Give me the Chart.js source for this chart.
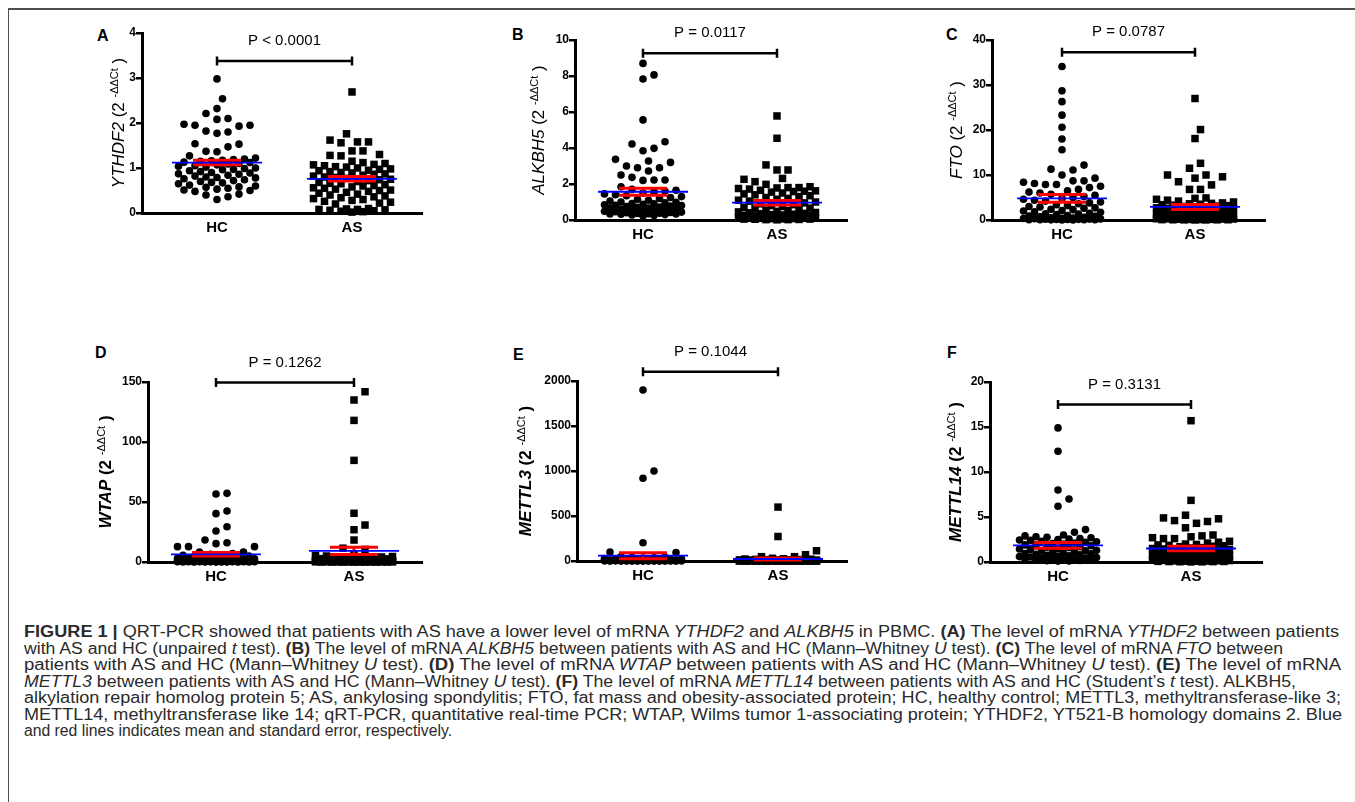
<!DOCTYPE html>
<html><head><meta charset="utf-8">
<script src="https://cdn.jsdelivr.net/npm/chart.js@4/dist/chart.umd.min.js"></script>
<style>
html,body{margin:0;padding:0;background:#fff;}
body{width:1355px;height:802px;position:relative;overflow:hidden;font-family:"Liberation Sans",Arial,sans-serif;}
#frame{position:absolute;left:8px;top:8px;width:1400px;height:900px;border-top:2px solid #505050;border-left:1px solid #505050;}
canvas{position:absolute;}
.lbl{position:absolute;font-weight:bold;font-size:16px;line-height:16px;color:#000;}
#caption{position:absolute;left:24px;top:624px;font-family:"Liberation Sans Narrow","Liberation Sans",Arial,sans-serif;font-size:16px;color:#2a2a2a;}
#caption div{white-space:nowrap;height:16.5px;line-height:16.5px;transform-origin:0 50%;width:max-content;}
</style></head><body>
<div id="frame"></div>
<div id="caption">
<div><b>FIGURE 1 |</b> QRT-PCR showed that patients with AS have a lower level of mRNA <i>YTHDF2</i> and <i>ALKBH5</i> in PBMC. <b>(A)</b> The level of mRNA <i>YTHDF2</i> between patients</div>
<div>with AS and HC (unpaired <i>t</i> test). <b>(B)</b> The level of mRNA <i>ALKBH5</i> between patients with AS and HC (Mann–Whitney <i>U</i> test). <b>(C)</b> The level of mRNA <i>FTO</i> between</div>
<div>patients with AS and HC (Mann–Whitney <i>U</i> test). <b>(D)</b> The level of mRNA <i>WTAP</i> between patients with AS and HC (Mann–Whitney <i>U</i> test). <b>(E)</b> The level of mRNA</div>
<div><i>METTL3</i> between patients with AS and HC (Mann–Whitney <i>U</i> test). <b>(F)</b> The level of mRNA <i>METTL14</i> between patients with AS and HC (Student’s <i>t</i> test). ALKBH5,</div>
<div>alkylation repair homolog protein 5; AS, ankylosing spondylitis; FTO, fat mass and obesity-associated protein; HC, healthy control; METTL3, methyltransferase-like 3;</div>
<div>METTL14, methyltransferase like 14; qRT-PCR, quantitative real-time PCR; WTAP, Wilms tumor 1-associating protein; YTHDF2, YT521-B homology domains 2. Blue</div>
<div>and red lines indicates mean and standard error, respectively.</div>
</div>
<script>
// ---------------- DATA ----------------
const categories = ['HC', 'AS'];
const panelLetters = ['A', 'B', 'C', 'D', 'E', 'F'];
const geneNames = ['YTHDF2', 'ALKBH5', 'FTO', 'WTAP', 'METTL3', 'METTL14'];
const pValueLabels = ['P < 0.0001', 'P = 0.0117', 'P = 0.0787', 'P = 0.1262', 'P = 0.1044', 'P = 0.3131'];
const yAxisMax = [4, 10, 40, 150, 2000, 20];
const yAxisStep = [1, 2, 10, 50, 500, 5];
const bracketLevels = [3.38, 9.26, 37.3, 149.5, 2104, 17.5];

const meanHC = [1.12, 1.57, 4.8, 6.4, 59, 1.85];
const semHC  = [0.05, 0.20, 0.85, 1.5, 33, 0.32];
const meanAS = [0.76, 0.96, 2.9, 9.2, 22, 1.5];
const semAS  = [0.05, 0.13, 0.55, 3.0, 10, 0.26];

const ythdf2HC = [2.98, 2.54, 2.32, 2.21, 2.10, 2.08, 1.97, 1.95, 1.95, 1.93, 1.82, 1.80, 1.77, 1.54, 1.53, 1.47, 1.37, 1.36, 1.27, 1.22, 1.20, 1.19, 1.17, 1.16, 1.15, 1.13, 1.12, 1.10, 1.09, 1.07, 1.05, 1.04, 1.02, 1.00, 0.99, 0.97, 0.96, 0.94, 0.92, 0.90, 0.89, 0.87, 0.86, 0.84, 0.82, 0.80, 0.79, 0.78, 0.76, 0.74, 0.72, 0.70, 0.68, 0.67, 0.65, 0.62, 0.60, 0.58, 0.57, 0.55, 0.53, 0.51, 0.50, 0.48, 0.42, 0.40, 0.36, 0.30];
const ythdf2AS = [2.69, 1.76, 1.62, 1.58, 1.58, 1.56, 1.38, 1.38, 1.30, 1.28, 1.27, 1.15, 1.12, 1.10, 1.08, 1.07, 1.05, 1.03, 1.02, 1.00, 0.98, 0.97, 0.95, 0.94, 0.92, 0.90, 0.89, 0.87, 0.86, 0.84, 0.82, 0.80, 0.79, 0.77, 0.75, 0.74, 0.72, 0.70, 0.68, 0.66, 0.65, 0.63, 0.61, 0.60, 0.58, 0.56, 0.55, 0.53, 0.51, 0.50, 0.48, 0.46, 0.44, 0.42, 0.40, 0.38, 0.36, 0.34, 0.32, 0.30, 0.28, 0.26, 0.24, 0.22, 0.20, 0.10, 0.09, 0.08, 0.08, 0.07, 0.06, 0.05, 0.04, 0.03, 0.02];

const alkbh5HC = [8.70, 8.06, 7.83, 5.56, 4.35, 4.22, 3.98, 3.85, 3.37, 3.28, 3.20, 3.00, 2.90, 2.90, 2.72, 2.50, 2.37, 2.22, 2.22, 2.20, 1.85, 1.70, 1.65, 1.60, 1.55, 1.50, 1.45, 1.40, 1.35, 1.30, 1.25, 1.20, 1.15, 1.10, 1.05, 1.00, 0.98, 0.95, 0.92, 0.90, 0.87, 0.85, 0.82, 0.80, 0.77, 0.75, 0.72, 0.70, 0.67, 0.65, 0.62, 0.60, 0.58, 0.55, 0.53, 0.50, 0.48, 0.46, 0.44, 0.42, 0.40, 0.38, 0.36, 0.35, 0.34, 0.33, 0.32, 0.30, 0.28, 0.25, 0.22];
const alkbh5AS = [5.78, 4.54, 3.06, 2.78, 2.78, 2.31, 2.26, 2.13, 1.98, 1.85, 1.80, 1.80, 1.78, 1.75, 1.72, 1.65, 1.62, 1.60, 1.58, 1.55, 1.50, 1.45, 1.40, 1.35, 1.30, 1.25, 1.20, 1.15, 1.10, 1.05, 1.00, 0.95, 0.90, 0.85, 0.80, 0.75, 0.70, 0.66, 0.62, 0.58, 0.55, 0.52, 0.48, 0.45, 0.42, 0.40, 0.37, 0.35, 0.32, 0.30, 0.28, 0.26, 0.24, 0.22, 0.20, 0.18, 0.16, 0.15, 0.14, 0.12, 0.11, 0.10, 0.09, 0.08, 0.07, 0.06, 0.05, 0.05, 0.04, 0.03, 0.02, 0.02, 0.01];

const ftoHC = [34.1, 28.7, 26.3, 23.3, 20.6, 18.0, 15.6, 12.2, 11.3, 11.1, 10.0, 9.3, 8.7, 8.7, 8.4, 8.1, 7.9, 7.9, 7.5, 7.2, 6.8, 6.5, 6.2, 6.0, 5.7, 5.5, 5.2, 5.0, 4.8, 4.6, 4.4, 4.2, 4.0, 3.8, 3.6, 3.4, 3.2, 3.0, 2.9, 2.7, 2.6, 2.4, 2.3, 2.1, 2.0, 1.8, 1.7, 1.5, 1.4, 1.3, 1.2, 1.0, 0.9, 0.8, 0.7, 0.6, 0.5, 0.45, 0.4, 0.35, 0.3, 0.25, 0.2, 0.18, 0.15, 0.12, 0.1, 0.08, 0.06, 0.05, 0.04, 0.03, 0.02, 0.01];
const ftoAS = [27.0, 20.1, 18.1, 12.6, 11.5, 10.0, 10.0, 9.6, 9.3, 8.5, 7.8, 6.8, 6.8, 4.9, 4.8, 4.6, 4.4, 4.2, 4.0, 3.8, 3.7, 3.6, 3.5, 3.4, 3.3, 3.2, 3.1, 3.0, 2.9, 2.8, 2.7, 2.6, 2.5, 2.4, 2.3, 2.2, 2.1, 2.0, 1.9, 1.8, 1.7, 1.6, 1.5, 1.4, 1.3, 1.2, 1.1, 1.0, 0.9, 0.8, 0.75, 0.7, 0.65, 0.6, 0.55, 0.5, 0.45, 0.4, 0.35, 0.3, 0.28, 0.25, 0.22, 0.2, 0.18, 0.15, 0.12, 0.1, 0.08, 0.06, 0.05, 0.04, 0.03, 0.02, 0.01];

const wtapHC = [57.2, 56.7, 42.5, 40.3, 29.4, 25.8, 18.3, 16.1, 15.3, 12.8, 12.8, 12.8, 8.3, 8.3, 7.0, 6.5, 6.0, 5.5, 5.0, 4.6, 4.2, 3.8, 3.5, 3.2, 3.0, 2.8, 2.6, 2.4, 2.2, 2.0, 1.9, 1.8, 1.7, 1.6, 1.5, 1.4, 1.3, 1.2, 1.1, 1.0, 0.95, 0.9, 0.85, 0.8, 0.75, 0.7, 0.65, 0.6, 0.55, 0.5, 0.45, 0.4, 0.35, 0.3, 0.28, 0.25, 0.22, 0.2, 0.18, 0.15, 0.12, 0.1, 0.08, 0.06, 0.05, 0.04, 0.03, 0.02, 0.01];
const wtapAS = [141.9, 135.0, 118.0, 84.7, 40.6, 30.8, 26.9, 18.3, 11.5, 10.5, 6.0, 5.5, 5.0, 4.6, 4.2, 3.9, 3.6, 3.3, 3.0, 2.8, 2.6, 2.4, 2.2, 2.0, 1.9, 1.8, 1.7, 1.6, 1.5, 1.4, 1.3, 1.2, 1.1, 1.0, 0.95, 0.9, 0.85, 0.8, 0.75, 0.7, 0.65, 0.6, 0.55, 0.5, 0.45, 0.4, 0.38, 0.35, 0.32, 0.3, 0.28, 0.25, 0.22, 0.2, 0.18, 0.16, 0.15, 0.14, 0.12, 0.1, 0.09, 0.08, 0.07, 0.06, 0.05, 0.04, 0.03, 0.02, 0.02, 0.01, 0.01];

const mettl3HC = [1900, 1000, 919, 202, 99, 95, 50, 45, 40, 35, 30, 28, 25, 22, 20, 18, 16, 15, 14, 13, 12, 11, 10, 9, 8, 7, 6.5, 6, 5.5, 5, 4.5, 4, 3.8, 3.5, 3.2, 3, 2.8, 2.5, 2.2, 2, 1.8, 1.6, 1.5, 1.4, 1.2, 1, 0.9, 0.8, 0.7, 0.6, 0.5, 0.4, 0.3, 0.2, 0.1, 0.05];
const mettl3AS = [599, 272, 114, 70, 48, 48, 30, 25, 22, 20, 18, 16, 15, 14, 13, 12, 11, 10, 9, 8, 7, 6, 5.5, 5, 4.5, 4, 3.5, 3, 2.8, 2.5, 2.2, 2, 1.8, 1.6, 1.5, 1.4, 1.2, 1, 0.9, 0.8, 0.7, 0.6, 0.5, 0.45, 0.4, 0.35, 0.3, 0.25, 0.2, 0.18, 0.15, 0.12, 0.1, 0.08, 0.06, 0.05, 0.04, 0.03, 0.02, 0.01];

const mettl14HC = [14.9, 12.3, 8.0, 7.0, 6.2, 3.6, 3.3, 3.0, 2.9, 2.8, 2.75, 2.7, 2.6, 2.55, 2.5, 2.45, 2.4, 2.3, 2.25, 2.2, 2.1, 2.05, 2.0, 1.9, 1.85, 1.8, 1.7, 1.65, 1.6, 1.5, 1.45, 1.4, 1.3, 1.25, 1.2, 1.1, 1.05, 1.0, 0.95, 0.9, 0.85, 0.8, 0.75, 0.7, 0.65, 0.6, 0.55, 0.5, 0.45, 0.4, 0.35, 0.3, 0.28, 0.25, 0.22, 0.2, 0.18, 0.15, 0.12, 0.1];
const mettl14AS = [15.7, 6.85, 5.2, 4.9, 4.8, 4.6, 4.5, 4.3, 3.8, 3.0, 2.9, 2.8, 2.7, 2.6, 2.6, 2.3, 2.2, 2.1, 2.0, 1.95, 1.9, 1.85, 1.8, 1.75, 1.7, 1.6, 1.55, 1.5, 1.45, 1.4, 1.35, 1.3, 1.25, 1.2, 1.15, 1.1, 1.05, 1.0, 0.95, 0.9, 0.85, 0.8, 0.75, 0.7, 0.65, 0.6, 0.55, 0.5, 0.45, 0.4, 0.38, 0.35, 0.32, 0.3, 0.28, 0.25, 0.22, 0.2, 0.18, 0.16, 0.14, 0.12, 0.1, 0.09, 0.08, 0.07, 0.06, 0.05, 0.04, 0.03, 0.02, 0.01];

const groupValues = [[ythdf2HC, ythdf2AS], [alkbh5HC, alkbh5AS], [ftoHC, ftoAS], [wtapHC, wtapAS], [mettl3HC, mettl3AS], [mettl14HC, mettl14AS]];

// ---------------- LAYOUT (page pixels) ----------------
const layout = [
  {l:142, r:422, t:33,  hc:217,  as:352,  tx:24, bold:false, lx:97,  ly:28},
  {l:575, r:847, t:40,  hc:643,  as:777,  tx:37, bold:false, lx:512, ly:27},
  {l:992, r:1265,t:40,  hc:1062, as:1195, tx:36, bold:false, lx:946, ly:27},
  {l:148, r:422, t:382, hc:216,  as:354,  tx:43, bold:true,  lx:95,  ly:345},
  {l:577, r:847, t:381, hc:643,  as:778,  tx:52, bold:true,  lx:513, ly:347},
  {l:990, r:1262,t:382, hc:1058, as:1191, tx:35, bold:true,  lx:947, ly:345}
];
const PLOT_H = 180, Y_W = 75, X_H = 30, PAD_T = 42, PAD_R = 8;
const FONT = '"Liberation Sans", Arial, sans-serif';

// column-scatter layout: horizontal pixel offsets so marks do not overlap
function swarmOffsets(values, pxPerVal) {
  const step = 5.5, d = 10, half = 38.5;
  const cands = [0];
  for (let k = 1; k * step <= half + 0.01; k++) cands.push(k * step, -k * step);
  const order = values.map((v, i) => i).sort((a, b) => values[a] - values[b]);
  const placed = [], res = new Array(values.length);
  for (const i of order) {
    const y = values[i] * pxPerVal;
    let chosen = null, best = -1, bestX = 0;
    for (const c of cands) {
      let m = Infinity;
      for (const p of placed) {
        const dx = p.x - c, dy = p.y - y, dd = dx * dx + dy * dy;
        if (dd < m) m = dd;
      }
      if (m >= d * d) { chosen = c; break; }
      if (m > best) { best = m; bestX = c; }
    }
    if (chosen === null) chosen = bestX;
    placed.push({x: chosen, y});
    res[i] = chosen;
  }
  return res;
}

const annot = {
  id: 'annot',
  afterDatasetsDraw(chart, args, opts) {
    const i = opts.panel, g = layout[i];
    const {ctx, chartArea} = chart;
    const xs = chart.scales.x, ys = chart.scales.y;
    const x0 = xs.getPixelForValue(0), x1 = xs.getPixelForValue(1);
    const yb = ys.getPixelForValue(bracketLevels[i]);
    ctx.save();
    ctx.strokeStyle = '#000'; ctx.lineWidth = 2.5; ctx.lineCap = 'butt';
    ctx.beginPath();
    ctx.moveTo(x0, yb); ctx.lineTo(x1, yb);
    ctx.moveTo(x0, yb - 4.5); ctx.lineTo(x0, yb + 4.5);
    ctx.moveTo(x1, yb - 4.5); ctx.lineTo(x1, yb + 4.5);
    ctx.stroke();
    ctx.fillStyle = '#000';
    ctx.font = '15px ' + FONT;
    ctx.textAlign = 'center'; ctx.textBaseline = 'middle';
    ctx.fillText(pValueLabels[i], (x0 + x1) / 2, yb - 20);
    // y-axis title
    const w = g.bold ? 'bold ' : '';
    const segs = [
      {t: geneNames[i], f: w + 'italic 17px ' + FONT, dy: 0},
      {t: ' (2 ', f: w + '17px ' + FONT, dy: 0},
      {t: '-ΔΔCt', f: '11px ' + FONT, dy: -6},
      {t: ' )', f: w + '17px ' + FONT, dy: 0}
    ];
    let total = 0;
    segs.forEach(s => { ctx.font = s.f; s.w = ctx.measureText(s.t).width; total += s.w; });
    const cx = chartArea.left - g.tx, cy = (chartArea.top + chartArea.bottom) / 2;
    ctx.translate(cx, cy); ctx.rotate(-Math.PI / 2);
    ctx.textAlign = 'left'; ctx.textBaseline = 'alphabetic';
    let x = -total / 2;
    segs.forEach(s => { ctx.font = s.f; ctx.fillText(s.t, x, 6 + s.dy); x += s.w; });
    ctx.restore();
  }
};

layout.forEach((g, i) => {
  const lbl = document.createElement('div');
  lbl.className = 'lbl'; lbl.textContent = panelLetters[i];
  lbl.style.left = g.lx + 'px'; lbl.style.top = g.ly + 'px';
  document.body.appendChild(lbl);

  const cv = document.createElement('canvas');
  const W = g.r - g.l + Y_W + PAD_R, H = PAD_T + PLOT_H + X_H;
  cv.width = W; cv.height = H;
  cv.style.width = W + 'px'; cv.style.height = H + 'px';
  cv.style.left = (g.l - Y_W) + 'px'; cv.style.top = (g.t - PAD_T) + 'px';
  document.body.appendChild(cv);

  const sp = g.as - g.hc;
  const xMin = -(g.hc - g.l) / sp, xMax = (g.r - g.hc) / sp;
  const pxPerVal = PLOT_H / yAxisMax[i];
  const [hcVals, asVals] = groupValues[i];
  const hcOff = swarmOffsets(hcVals, pxPerVal), asOff = swarmOffsets(asVals, pxPerVal);
  const hcPts = hcVals.map((v, k) => ({x: hcOff[k] / sp, y: v}));
  const asPts = asVals.map((v, k) => ({x: 1 + asOff[k] / sp, y: v}));
  const bw = 45 / sp, rw = 24 / sp;
  const seg = (xa, ya, xb, yb) => [{x: xa, y: ya}, {x: xb, y: yb}];
  const lineDs = (data, color, width, order) => ({data, showLine: true, borderColor: color, backgroundColor: color, borderWidth: width, pointRadius: 0, order, clip: false});
  const datasets = [];
  [[0, meanHC[i], semHC[i]], [1, meanAS[i], semAS[i]]].forEach(([cx, m, s]) => {
    datasets.push(lineDs(seg(cx - bw, m, cx + bw, m), '#0000ff', 1.8, 0));
    datasets.push(lineDs(seg(cx - rw, m + s, cx + rw, m + s), '#ff0000', 3, 1));
    datasets.push(lineDs(seg(cx - rw, m - s, cx + rw, m - s), '#ff0000', 3, 1));
    datasets.push(lineDs(seg(cx, m - s, cx, m + s), '#ff0000', 3, 1));
  });
  datasets.push({data: hcPts, pointStyle: 'circle', pointRadius: 3.8, backgroundColor: '#000', borderWidth: 0, order: 2, clip: false});
  datasets.push({data: asPts, pointStyle: 'rect', pointRadius: 5.3, backgroundColor: '#000', borderWidth: 0, order: 3, clip: false});

  new Chart(cv, {
    type: 'scatter',
    data: {datasets},
    options: {
      responsive: false, animation: false, events: [],
      layout: {padding: {top: PAD_T, right: PAD_R, left: 0, bottom: 0}},
      plugins: {legend: {display: false}, tooltip: {enabled: false}, annot: {panel: i}},
      scales: {
        x: {
          type: 'linear', min: xMin, max: xMax,
          afterBuildTicks: s => { s.ticks = [{value: 0}, {value: 1}]; },
          afterFit: s => { s.height = X_H; },
          ticks: {callback: v => categories[v] !== undefined ? categories[v] : '', color: '#000', font: {family: FONT, size: 15, weight: 'bold'}, padding: 6, maxRotation: 0, autoSkip: false},
          grid: {display: false, drawTicks: false},
          border: {display: true, color: '#000', width: 3}
        },
        y: {
          type: 'linear', min: 0, max: yAxisMax[i],
          afterFit: s => { s.width = Y_W; },
          ticks: {stepSize: yAxisStep[i], callback: v => String(v), color: '#000', font: {family: FONT, size: 12, weight: 'bold'}, padding: 0},
          grid: {display: true, drawOnChartArea: false, drawTicks: true, tickLength: 6, color: '#000', lineWidth: 2.5},
          border: {display: true, color: '#000', width: 3}
        }
      }
    },
    plugins: [annot]
  });
});

// caption: each line is stretched horizontally to end where the reference line ends
const lineEnds = [1339, 1283, 1341, 1296, 1341, 1342, 452];
function fitCaption() {
  const rows = document.querySelectorAll('#caption div');
  rows.forEach((r, k) => {
    r.style.transform = 'none';
    const w = r.getBoundingClientRect().width;
    r.style.transform = 'scaleX(' + ((lineEnds[k] - 24) / w) + ')';
  });
}
fitCaption();
if (document.fonts && document.fonts.ready) document.fonts.ready.then(fitCaption);
</script>
</body></html>
